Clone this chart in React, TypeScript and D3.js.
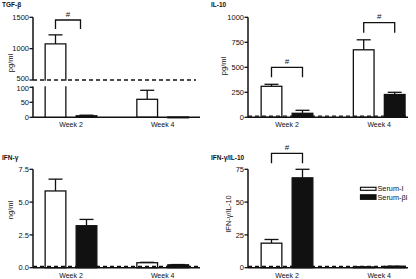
import React from "react";
import * as d3 from "d3";

const weeks = ["Week 2", "Week 4"];
const seriesNames = ["Serum-I", "Serum-βI"];

const tgfValues = [[1075, 5], [60, 1]];
const tgfErrors = [[145, 2], [30, 0]];
const il10Values = [[310, 40], [675, 228]];
const il10Errors = [[20, 30], [100, 22]];
const ifnValues = [[5.85, 3.2], [0.38, 0.22]];
const ifnErrors = [[0.9, 0.48], [0.03, 0.02]];
const ratioValues = [[18.7, 68.5], [0.6, 1.0]];
const ratioErrors = [[2.8, 6.5], [0.1, 0.1]];

const tgfUpperTicks = [500, 1000, 1500];
const tgfLowerTicks = [0, 50, 100];
const il10Ticks = [0, 250, 500, 750, 1000];
const ifnTicks = [0, 2.5, 5, 7.5];
const ratioTicks = [0, 25, 50, 75];

const FONT = "Liberation Sans, Arial, sans-serif";
const INK = "#111";

type Bracket = { week: number; top: number; leg: number; inset?: number };

function Bars({ x, y, values, errors, barW, gap }: any) {
  const out: any[] = [];
  values.forEach((pair: number[], wi: number) => {
    pair.forEach((v: number, si: number) => {
      const cx = x(weeks[wi]) + (si === 0 ? -1 : 1) * (barW + gap) / 2;
      const x0 = cx - barW / 2;
      const yb = y(0);
      const yt = y(v);
      const ye = y(v + errors[wi][si]);
      out.push(
        <g key={`${wi}-${si}`}>
          {errors[wi][si] > 0 && (
            <g stroke={INK} strokeWidth={1.3}>
              <line x1={cx} x2={cx} y1={yt} y2={ye} />
              <line x1={cx - 7} x2={cx + 7} y1={ye} y2={ye} />
            </g>
          )}
          <rect x={x0} y={yt} width={barW} height={Math.max(0.8, yb - yt)}
            fill={si === 0 ? "#fff" : INK} stroke={INK} strokeWidth={1.3} />
        </g>
      );
    });
  });
  return <g>{out}</g>;
}

function YAxis({ x, y, ticks, fmt, y0, y1, nudge }: any) {
  return (
    <g>
      <line x1={x} x2={x} y1={y0} y2={y1} stroke={INK} strokeWidth={1.5} />
      {ticks.map((t: number) => (
        <g key={t}>
          <line x1={x - 3.5} x2={x} y1={y(t)} y2={y(t)} stroke={INK} strokeWidth={1.3} />
          <text x={x - 4} y={y(t) + (nudge && nudge[t] ? nudge[t] : 0)} dy="0.35em" textAnchor="end" fontSize={7.5} fontFamily={FONT} fill={INK}>
            {fmt(t)}
          </text>
        </g>
      ))}
    </g>
  );
}

function XAxis({ x, y0, x0, x1, dashed }: any) {
  return (
    <g>
      <line x1={x0} x2={x1} y1={y0} y2={y0} stroke={INK} strokeWidth={1.6} />
      {dashed && (
        <line x1={x0} x2={x1} y1={y0 - 1.2} y2={y0 - 1.2} stroke={INK} strokeWidth={1.3} strokeDasharray="4,3" />
      )}
      {weeks.map((w) => (
        <text key={w} x={x(w)} y={y0 + 9.8} textAnchor="middle" fontSize={7} fontFamily={FONT} fill={INK}>
          {w}
        </text>
      ))}
    </g>
  );
}

function BracketMark({ x, b, barW, gap }: any) {
  const c = x(weeks[b.week]);
  const off = (barW + gap) / 2;
  const xa = c - off;
  const xb = c + off - (b.inset || 0);
  return (
    <g>
      <path d={`M${xa},${b.top + b.leg}V${b.top}H${xb}V${b.top + b.leg}`} fill="none" stroke={INK} strokeWidth={1.3} />
      <text x={(xa + xb) / 2} y={b.top - 3.5} textAnchor="middle" fontSize={8} fontFamily={FONT} fill={INK}>#</text>
    </g>
  );
}

function Title({ x, y, text }: any) {
  return <text x={x} y={y} fontSize={6.5} fontWeight="bold" fontFamily={FONT} fill={INK}>{text}</text>;
}

function YLabel({ x, y, text }: any) {
  return (
    <text transform={`translate(${x},${y}) rotate(-90)`} textAnchor="middle" dy="0.35em" fontSize={7.5} fontFamily={FONT} fill={INK}>
      {text}
    </text>
  );
}

export default function App() {
  const barW = 20.7;
  const gap = 10.3;

  // TGF-beta (broken axis)
  const xL = d3.scalePoint<string>().domain(weeks).range([71, 162.7]);
  const tgfUp = d3.scaleLinear().domain([500, 1500]).range([80, 17.3]);
  const tgfLow = d3.scaleLinear().domain([0, 100]).range([117.3, 87.3]);
  const breakTop = 80.7;
  const breakBot = 86.3;

  const tgfBars: any[] = [];
  tgfValues.forEach((pair, wi) => {
    pair.forEach((v, si) => {
      const cx = xL(weeks[wi])! + (si === 0 ? -1 : 1) * (barW + gap) / 2;
      const x0 = cx - barW / 2;
      const x1 = cx + barW / 2;
      const err = tgfErrors[wi][si];
      const fill = si === 0 ? "#fff" : INK;
      if (v > 100) {
        const yt = tgfUp(v);
        const ye = tgfUp(v + err);
        tgfBars.push(
          <g key={`${wi}-${si}`} stroke={INK} strokeWidth={1.3}>
            <line x1={cx} x2={cx} y1={yt} y2={ye} />
            <line x1={cx - 7} x2={cx + 7} y1={ye} y2={ye} />
            <rect x={x0} y={yt} width={barW} height={breakTop - yt} fill={fill} stroke="none" />
            <path d={`M${x0},${breakTop}V${yt}H${x1}V${breakTop}`} fill="none" />
            <rect x={x0} y={breakBot} width={barW} height={tgfLow(0) - breakBot} fill={fill} stroke="none" />
            <path d={`M${x0},${breakBot}V${tgfLow(0)}M${x1},${breakBot}V${tgfLow(0)}`} fill="none" />
          </g>
        );
      } else {
        const yt = tgfLow(v);
        const ye = tgfLow(v + err);
        tgfBars.push(
          <g key={`${wi}-${si}`} stroke={INK} strokeWidth={1.3}>
            {err > 0 && <line x1={cx} x2={cx} y1={yt} y2={ye} />}
            {err > 0 && <line x1={cx - 7} x2={cx + 7} y1={ye} y2={ye} />}
            <rect x={x0} y={yt} width={barW} height={Math.max(0.8, tgfLow(0) - yt)} fill={fill} />
          </g>
        );
      }
    });
  });

  // IL-10
  const xR = d3.scalePoint<string>().domain(weeks).range([287, 379.2]);
  const il10Y = d3.scaleLinear().domain([0, 1000]).range([117.3, 17.3]);
  // IFN-gamma
  const ifnY = d3.scaleLinear().domain([0, 7.5]).range([267.7, 169.3]);
  // ratio
  const ratioY = d3.scaleLinear().domain([0, 75]).range([267.7, 169.3]);

  const intFmt = d3.format("d");
  const oneDec = d3.format(".1f");

  const il10Brackets: Bracket[] = [
    { week: 0, top: 67.3, leg: 10 },
    { week: 1, top: 22.7, leg: 10 },
  ];
  const ratioBrackets: Bracket[] = [{ week: 0, top: 153.3, leg: 10 }];
  const tgfBrackets: Bracket[] = [{ week: 0, top: 20, leg: 9, inset: 6 }];

  return (
    <svg width={416} height={279} style={{ position: "absolute", left: 0, top: 0, background: "#fff" }}>
      <rect width={416} height={279} fill="#fff" />

      {/* TGF-beta */}
      <Title x={2} y={7} text="TGF-β" />
      <YLabel x={10} y={63} text="pg/ml" />
      {tgfBars}
      <YAxis x={33} y={tgfUp} ticks={tgfUpperTicks} fmt={intFmt} y0={17.3} y1={80} nudge={{ 500: -1.2 }} />
      <YAxis x={33} y={tgfLow} ticks={tgfLowerTicks} fmt={intFmt} y0={86.5} y1={117.3} nudge={{ 100: 0.8 }} />
      <line x1={33} x2={196} y1={80} y2={80} stroke={INK} strokeWidth={1.5} strokeDasharray="4,3" />
      <XAxis x={xL} y0={117.3} x0={33} x1={200} dashed={false} />
      {tgfBrackets.map((b, i) => <BracketMark key={i} x={xL} b={b} barW={barW} gap={gap} />)}

      {/* IL-10 */}
      <Title x={211} y={7} text="IL-10" />
      <YLabel x={223} y={66} text="pg/ml" />
      <Bars x={xR} y={il10Y} values={il10Values} errors={il10Errors} barW={barW} gap={gap} />
      <YAxis x={248} y={il10Y} ticks={il10Ticks} fmt={intFmt} y0={17.3} y1={117.3} />
      <XAxis x={xR} y0={117.3} x0={248} x1={408} dashed={true} />
      {il10Brackets.map((b, i) => <BracketMark key={i} x={xR} b={b} barW={barW} gap={gap} />)}

      {/* IFN-gamma */}
      <Title x={2} y={160} text="IFN-γ" />
      <YLabel x={10} y={210} text="ng/ml" />
      <Bars x={xL} y={ifnY} values={ifnValues} errors={ifnErrors} barW={barW} gap={gap} />
      <YAxis x={33} y={ifnY} ticks={ifnTicks} fmt={oneDec} y0={169.3} y1={267.7} />
      <XAxis x={xL} y0={267.7} x0={33} x1={200} dashed={true} />

      {/* IFN-gamma / IL-10 */}
      <Title x={211} y={160} text="IFN-γ/IL-10" />
      <YLabel x={228.5} y={214} text="IFN-γ/IL-10" />
      <Bars x={xR} y={ratioY} values={ratioValues} errors={ratioErrors} barW={barW} gap={gap} />
      <YAxis x={248} y={ratioY} ticks={ratioTicks} fmt={intFmt} y0={169.3} y1={267.7} />
      <XAxis x={xR} y0={267.7} x0={248} x1={408} dashed={true} />
      {ratioBrackets.map((b, i) => <BracketMark key={i} x={xR} b={b} barW={barW} gap={gap} />)}

      {/* legend */}
      {seriesNames.map((s, i) => (
        <g key={s}>
          <rect x={360.5} y={187.3 + i * 7.5} width={15.5} height={i === 0 ? 3 : 4.5} fill={i === 0 ? "#fff" : INK} stroke={INK} strokeWidth={1.2} />
          <text x={377.5} y={190.6 + i * 9.4} fontSize={7.3} fontFamily={FONT} fill={INK}>{s}</text>
        </g>
      ))}
    </svg>
  );
}
